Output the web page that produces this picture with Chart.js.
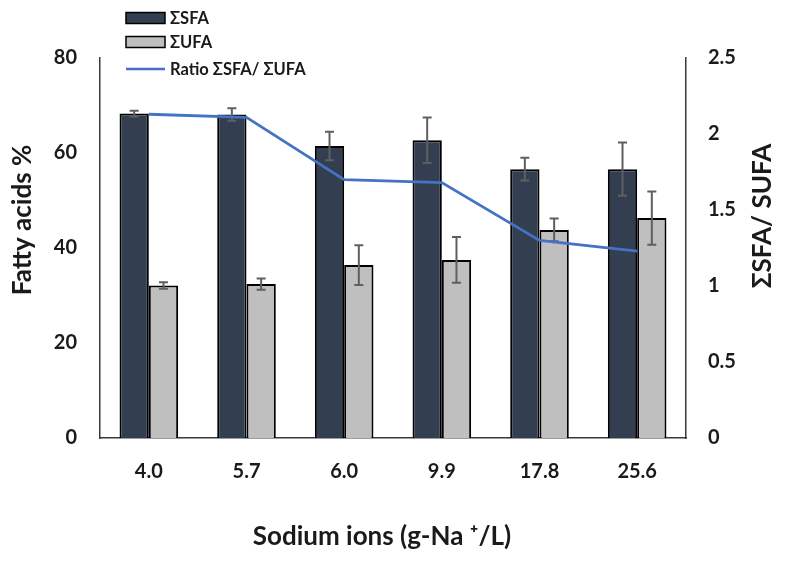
<!DOCTYPE html>
<html lang="en">
<head>
  <meta charset="UTF-8">
  <title>Fatty acids vs sodium ions</title>
  <style>
    body {
      margin: 0;
      background: #ffffff;
    }
    #wrap {
      position: relative;
      width: 789px;
      height: 562px;
    }
  </style>
</head>
<body>
  <div id="wrap">
    <canvas id="chartFA" width="789" height="562"></canvas>
  </div>

  <script src="https://cdn.jsdelivr.net/npm/chart.js"></script>
  <script>
    // values
    const sodiumLabels = ['4.0', '5.7', '6.0', '9.9', '17.8', '25.6'];
    const sfaValues = [68.3, 68.1, 61.5, 62.7, 56.6, 56.6];
    const sfaErrors = [0.6, 1.3, 3.0, 4.8, 2.4, 5.6];
    const ufaValues = [32.1, 32.4, 36.4, 37.5, 43.8, 46.3];
    const ufaErrors = [0.7, 1.2, 4.2, 4.8, 2.4, 5.6];
    const ratioValues = [2.13, 2.11, 1.70, 1.68, 1.30, 1.23];

    const FONT = "Lato, 'DejaVu Sans', sans-serif";
    const TEXT = '#1a1a1a';
    const AXIS = '#3a3a3a';

    // whiskers for the bar series
    const errorBars = {
      id: 'errorBars',
      afterDatasetDraw(chart, args) {
        const ds = chart.data.datasets[args.index];
        if (!ds.errors) return;
        const ctx = chart.ctx;
        const yScale = chart.scales[ds.yAxisID || 'y'];
        ctx.save();
        ctx.strokeStyle = '#5f5f5f';
        ctx.lineWidth = 2;
        args.meta.data.forEach((bar, i) => {
          const v = ds.data[i], e = ds.errors[i];
          const yTop = yScale.getPixelForValue(v + e);
          const yBot = yScale.getPixelForValue(v - e);
          ctx.beginPath();
          ctx.moveTo(bar.x, yTop); ctx.lineTo(bar.x, yBot);
          ctx.moveTo(bar.x - 4.5, yTop); ctx.lineTo(bar.x + 4.5, yTop);
          ctx.moveTo(bar.x - 4.5, yBot); ctx.lineTo(bar.x + 4.5, yBot);
          ctx.stroke();
        });
        ctx.restore();
      }
    };

    function rotatedText(ctx, text, x, y) {
      ctx.save();
      ctx.translate(x, y);
      ctx.rotate(-Math.PI / 2);
      ctx.fillText(text, 0, 0);
      ctx.restore();
    }

    // stacked legend in the top left corner + axis titles placed like the original
    const extras = {
      id: 'extras',
      afterDraw(chart) {
        const ctx = chart.ctx;
        const area = chart.chartArea;
        ctx.save();
        ctx.font = 'bold 16.5px ' + FONT;
        ctx.textBaseline = 'middle';
        ctx.fillStyle = TEXT;
        const rows = [18, 42, 69];
        chart.data.datasets.forEach((ds, i) => {
          const y = rows[i];
          if (ds.type === 'line') {
            ctx.strokeStyle = ds.borderColor;
            ctx.lineWidth = 2.5;
            ctx.beginPath();
            ctx.moveTo(126, y); ctx.lineTo(165, y);
            ctx.stroke();
          } else {
            ctx.fillStyle = ds.backgroundColor;
            ctx.fillRect(126, y - 5.5, 39, 11);
            ctx.strokeStyle = '#000';
            ctx.lineWidth = 1.5;
            ctx.strokeRect(126, y - 5.5, 39, 11);
          }
          ctx.fillStyle = TEXT;
          ctx.textAlign = 'left';
          ctx.fillText(ds.label, 170, y + 1);
        });

        ctx.font = 'bold 26px ' + FONT;
        ctx.textAlign = 'center';
        rotatedText(ctx, 'Fatty acids %', 23, 220);
        rotatedText(ctx, 'ΣSFA/ SUFA', area.right + 77, 216);
        ctx.fillText('Sodium ions (g-Na ⁺/L)', 382, 537);
        ctx.restore();
      }
    };

    const tickFont = { family: FONT, size: 20, weight: 'bold' };

    new Chart(document.getElementById('chartFA'), {
      type: 'bar',
      data: {
        labels: sodiumLabels,
        datasets: [
          {
            label: 'ΣSFA',
            data: sfaValues,
            errors: sfaErrors,
            backgroundColor: '#333f50',
            borderColor: '#000000',
            borderWidth: 2,
            yAxisID: 'y',
            order: 2
          },
          {
            label: 'ΣUFA',
            data: ufaValues,
            errors: ufaErrors,
            backgroundColor: '#bfbfbf',
            borderColor: '#000000',
            borderWidth: 2,
            yAxisID: 'y',
            order: 2
          },
          {
            type: 'line',
            label: 'Ratio ΣSFA/ ΣUFA',
            data: ratioValues,
            borderColor: '#4472c4',
            borderWidth: 2.8,
            pointRadius: 0,
            tension: 0,
            fill: false,
            yAxisID: 'y1',
            order: 1
          }
        ]
      },
      options: {
        responsive: false,
        animation: false,
        layout: { padding: { top: 58, left: 0, right: 0, bottom: 0 } },
        categoryPercentage: 0.6,
        barPercentage: 1.0,
        plugins: {
          legend: { display: false },
          tooltip: { enabled: false }
        },
        scales: {
          x: {
            grid: { display: false, drawTicks: false },
            border: { display: true, color: AXIS, width: 1.5 },
            ticks: { color: TEXT, padding: 22, font: tickFont },
            afterFit(s) { s.height = 124; }
          },
          y: {
            position: 'left',
            min: 0,
            max: 80,
            grid: { display: false, drawTicks: false },
            border: { display: true, color: AXIS, width: 1.5 },
            ticks: { stepSize: 20, color: TEXT, padding: 23, font: tickFont },
            afterFit(s) { s.width = 100; }
          },
          y1: {
            position: 'right',
            min: 0,
            max: 2.5,
            grid: { display: false, drawTicks: false },
            border: { display: true, color: AXIS, width: 1.5 },
            ticks: {
              stepSize: 0.5,
              color: TEXT,
              padding: 22,
              font: tickFont,
              callback: v => String(+v.toFixed(1))
            },
            afterFit(s) { s.width = 103; }
          }
        }
      },
      plugins: [errorBars, extras]
    });
  </script>
</body>
</html>
